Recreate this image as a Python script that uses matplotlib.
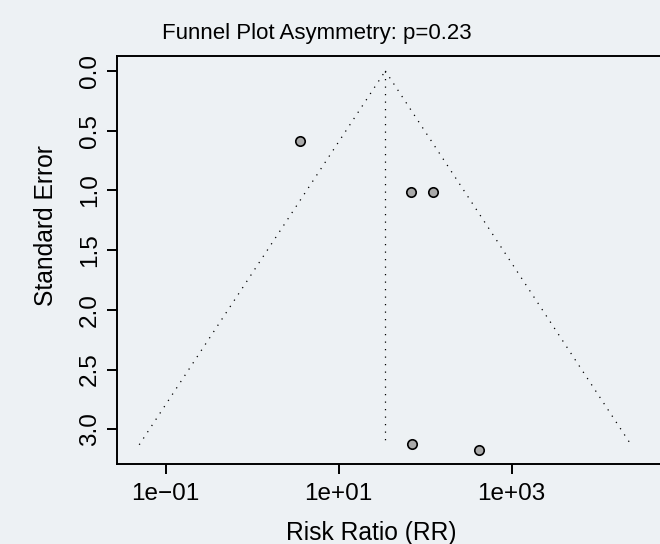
import matplotlib
matplotlib.use("Agg")
import matplotlib.pyplot as plt
from matplotlib import font_manager

# ---- data ----
rr = [3.61, 69.0, 124.0, 71.0, 422.0]          # study risk ratios
se = [0.587, 1.011, 1.011, 3.126, 3.171]        # standard errors
rr_pooled = 34.6                                 # centre of the funnel
funnel_left = 0.0495                             # funnel lower-left RR
funnel_right = 23990.0                           # funnel lower-right RR
funnel_se = 3.13                                 # SE at the funnel bottom
xticks = [0.1, 10, 1000]
xticklabels = ["1e\u221201", "1e+01", "1e+03"]
yticks = [0.0, 0.5, 1.0, 1.5, 2.0, 2.5, 3.0]
yticklabels = ["0.0", "0.5", "1.0", "1.5", "2.0", "2.5", "3.0"]
title = "Funnel Plot Asymmetry: p=0.23"
xlabel = "Risk Ratio (RR)"
ylabel = "Standard Error"

BG = "#edf1f4"
W, H = 660, 544
plt.rcParams["font.family"] = ["Liberation Sans", "DejaVu Sans"]

fig = plt.figure(figsize=(W / 100, H / 100), dpi=100, facecolor=BG)
# axes in pixel coordinates (right edge deliberately outside the figure)
left_px, right_px, top_px, bottom_px = 117.3, 684.7, 55.7, 463.5
ax = fig.add_axes([left_px / W, (H - bottom_px) / H,
                   (right_px - left_px) / W, (bottom_px - top_px) / H])
ax.set_facecolor(BG)
ax.set_xscale("log")
ax.set_xlim(10 ** -1.559, 1e5)
ax.set_ylim(3.287, -0.128)

dot = dict(color="black", linewidth=0.9, linestyle=(0, (1, 5)))
ax.plot([rr_pooled, rr_pooled], [0, funnel_se], **dot)
ax.plot([funnel_left, rr_pooled], [funnel_se, 0], **dot)
ax.plot([rr_pooled, funnel_right], [0, funnel_se], **dot)

ax.scatter(rr, se, s=46, facecolor="#a9a9a9", edgecolor="black",
           linewidth=1.2, zorder=3)

for s in ["left", "top", "bottom"]:
    ax.spines[s].set_linewidth(1.4)
    ax.spines[s].set_color("black")
ax.spines["right"].set_visible(False)

ax.set_xticks(xticks)
ax.set_xticklabels(xticklabels)
ax.xaxis.set_minor_locator(matplotlib.ticker.NullLocator())
ax.set_yticks(yticks)
ax.set_yticklabels(yticklabels, rotation=90, va="center", ha="right")
ax.tick_params(axis="both", length=7.5, width=1.4, labelsize=17.5, colors="black")
ax.tick_params(axis="x", pad=6.5)
ax.tick_params(axis="y", pad=4.5)

names = {f.name for f in font_manager.fontManager.ttflist}
if "Liberation Sans Narrow" in names:
    tfam, tsize = ["Liberation Sans Narrow", "Liberation Sans"], 18.5
else:
    tfam, tsize = ["Liberation Sans", "DejaVu Sans"], 16
fig.text(317 / W, (H - 39.3) / H, title, ha="center", va="baseline",
         fontsize=tsize, family=tfam)
fig.text(371 / W, (H - 540) / H, xlabel, ha="center", va="baseline",
         fontsize=17.7)
fig.text(53 / W, (H - 225.5) / H, ylabel, ha="center", va="baseline",
         rotation=90, rotation_mode="anchor", fontsize=17.7)

fig.savefig("out.png", dpi=100, facecolor=BG)
